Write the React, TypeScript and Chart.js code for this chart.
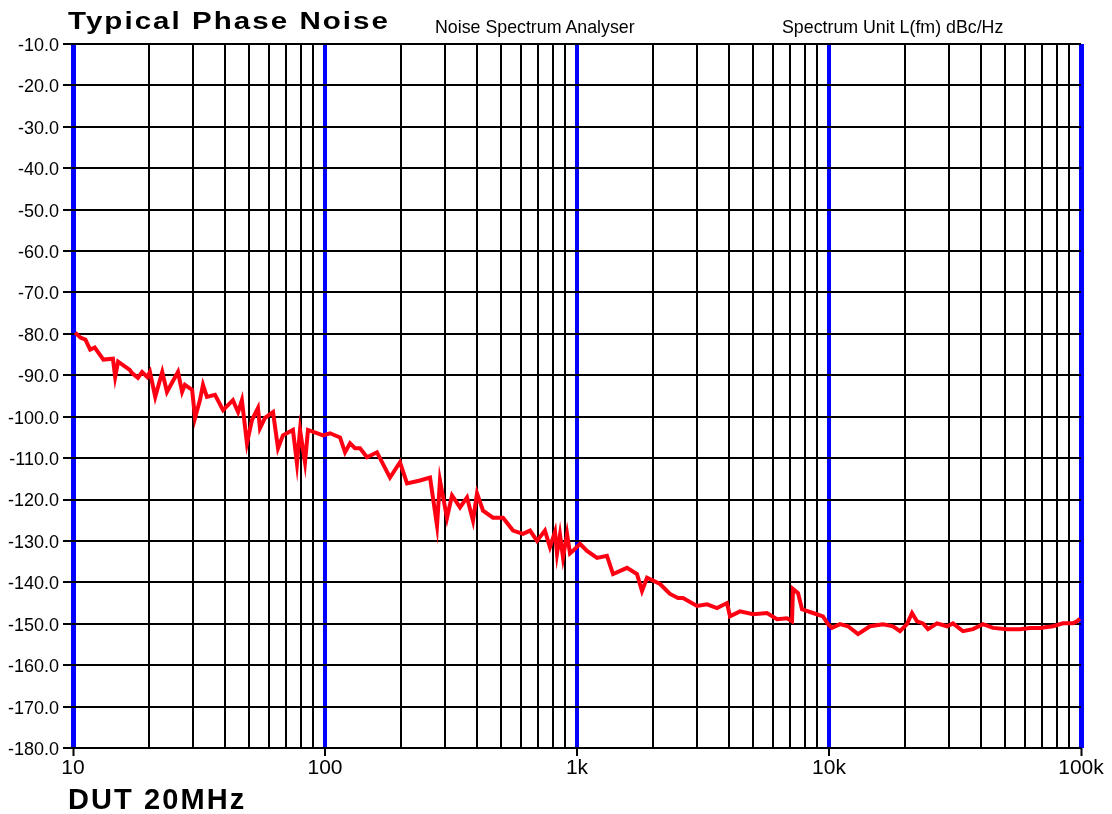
import React, { useEffect, useRef } from 'react';
import { Chart, registerables } from 'chart.js';

Chart.register(...registerables);

// ---------- data ----------
const FREQ_HZ: number[] = [
  10.2, 10.7, 11.2, 11.7, 12.2, 13.2, 14.4, 14.7, 15.1, 16.8, 17.1, 18.1, 18.8, 19.7, 20.2, 21.2, 22.6, 23.6, 24.7, 26.1,
  27.1, 27.8, 29.7, 30.5, 31.9, 32.8, 34.0, 36.6, 39.4, 43.1, 45.2, 46.8, 49.0, 51.3, 54.2, 55.2, 57.8, 62.2, 65.1, 68.1,
  74.6, 77.4, 79.6, 83.3, 85.6, 98.2, 104.7, 114.7, 120.1, 125.7, 131.5, 137.7, 146.8, 160.8, 181.1, 198.4, 211.6, 238.2,
  261.1, 278.3, 285.9, 304.9, 319.2, 343.4, 366.1, 386.7, 401.1, 423.7, 464.2, 508.6, 557.2, 610.6, 651, 694, 746, 781,
  818, 833, 856, 880, 913, 938, 964, 1028, 1096, 1201, 1315, 1390, 1579, 1730, 1811, 1896, 2135, 2339, 2516, 2634, 2994,
  3281, 3594, 3937, 4047, 4436, 4994, 5675, 6220, 6813, 7132, 7197, 7535, 7815, 8640, 9467, 9909, 10277, 11058, 11898,
  13036, 14548, 16379, 17947, 19128, 20391, 21350, 22346, 23605, 24713, 26827, 29398, 31054, 34020, 37276, 40846, 44755,
  50852, 57280, 62763, 68771, 77426, 84842, 92958, 96400, 99000,
];

const PHASE_NOISE_DBC: number[] = [
  -79.7, -80.9, -81.4, -83.8, -83.3, -86.2, -86.0, -90.4, -86.7, -88.7, -89.4, -90.6, -89.2, -90.4, -89.2, -95.2, -89.2, -94.0, -91.8, -89.2,
  -94.0, -92.3, -93.5, -100.3, -96.0, -92.3, -95.2, -94.7, -98.4, -96.0, -98.9, -96.0, -106.4, -100.8, -97.9, -102.8, -100.3, -98.9, -107.6, -104.5,
  -103.2, -111.3, -103.2, -111.0, -103.2, -104.5, -104.0, -105.0, -108.6, -106.4, -107.6, -107.6, -109.8, -108.6, -114.7, -111.0, -116.1, -115.4,
  -114.7, -126.3, -115.4, -124.4, -119.0, -121.9, -119.5, -125.1, -118.5, -122.7, -124.4, -124.4, -127.5, -128.3, -127.5, -130.0, -127.5, -131.5,
  -127.8, -133.1, -128.5, -134.0, -128.3, -133.0, -132.4, -130.7, -132.4, -134.1, -133.6, -138.0, -136.5, -138.0, -142.1, -138.9, -140.4, -142.8, -143.8, -143.8, -145.7,
  -145.3, -146.2, -145.0, -148.2, -147.0, -147.7, -147.4, -148.9, -148.7, -149.4, -141.6, -142.6, -146.5, -147.4, -148.2, -150.1, -151.0, -150.1, -150.6,
  -152.5, -150.6, -150.1, -150.6, -151.8, -150.1, -147.4, -149.4, -149.9, -151.3, -149.9, -150.6, -149.9, -151.8, -151.3, -150.1, -151.0,
  -151.3, -151.3, -151.0, -151.0, -150.6, -149.9, -149.9, -149.4, -148.8,
];

const X_DECADES: number[] = [10, 100, 1000, 10000, 100000];
const X_DECADE_LABELS: string[] = ['10', '100', '1k', '10k', '100k'];
const X_MINOR_MULTIPLES: number[] = [2, 3, 4, 5, 6, 7, 8, 9];
const Y_MIN = -180;
const Y_MAX = -10;
const Y_STEP = 10;

const TITLE = 'Typical Phase Noise';
const SUBTITLE = 'DUT 20MHz';
const HEADER_LEFT = 'Noise Spectrum Analyser';
const HEADER_RIGHT = 'Spectrum Unit L(fm) dBc/Hz';

// ---------- styles ----------
const RED = 'rgb(255,0,18)';
const BLUE = '#0000ff';
const BLACK = '#000000';
const FONT = '"Liberation Sans", Arial, Helvetica, sans-serif';

const X_GRID_VALUES: number[] = (() => {
  const out: number[] = [];
  X_DECADES.forEach((d, i) => {
    out.push(d);
    if (i < X_DECADES.length - 1) X_MINOR_MULTIPLES.forEach((m) => out.push(d * m));
  });
  return out.sort((a, b) => a - b);
})();

const decadeIndex = (v: number) => X_DECADES.findIndex((d) => Math.abs(d - v) < 1e-6 * d);

export default function App() {
  const ref = useRef<HTMLCanvasElement>(null);

  useEffect(() => {
    const canvas = ref.current;
    if (!canvas) return;
    const chart = new Chart(canvas, {
      type: 'line',
      data: {
        datasets: [
          {
            data: FREQ_HZ.map((f, i) => ({ x: f, y: PHASE_NOISE_DBC[i] })),
            borderColor: RED,
            backgroundColor: RED,
            borderWidth: 4,
            pointRadius: 0,
            tension: 0,
            fill: false,
            borderJoinStyle: 'miter',
          },
        ],
      },
      options: {
        responsive: false,
        maintainAspectRatio: false,
        animation: false,
        devicePixelRatio: 1,
        layout: { padding: { top: 44, right: 31, left: 0, bottom: 0 } },
        plugins: {
          legend: { display: false },
          tooltip: { enabled: false },
          title: { display: false },
        },
        scales: {
          x: {
            type: 'logarithmic',
            position: 'bottom',
            min: 10,
            max: 100000,
            afterBuildTicks: (scale: any) => {
              scale.ticks = X_GRID_VALUES.map((v) => ({ value: v }));
            },
            afterFit: (scale: any) => {
              scale.height = 66;
            },
            border: { display: false },
            grid: {
              color: (ctx: any) => (ctx.tick && decadeIndex(ctx.tick.value) >= 0 ? BLUE : BLACK),
              lineWidth: (ctx: any) => {
                if (!ctx.tick) return 2;
                const i = decadeIndex(ctx.tick.value);
                if (i === 0 || i === X_DECADES.length - 1) return 5;
                if (i > 0) return 4;
                return 2;
              },
              tickColor: (ctx: any) =>
                ctx.tick && decadeIndex(ctx.tick.value) >= 0 ? BLACK : 'rgba(0,0,0,0)',
              tickLength: 8,
              tickWidth: 2,
              drawTicks: true,
            },
            ticks: {
              autoSkip: false,
              maxRotation: 0,
              minRotation: 0,
              padding: 0,
              color: BLACK,
              font: { family: FONT, size: 21 },
              callback: (value: any) => {
                const i = decadeIndex(Number(value));
                return i >= 0 ? X_DECADE_LABELS[i] : '';
              },
            },
          },
          y: {
            type: 'linear',
            min: Y_MIN,
            max: Y_MAX,
            afterFit: (scale: any) => {
              scale.width = 73;
            },
            border: { display: false },
            grid: {
              color: BLACK,
              lineWidth: 2,
              tickLength: 10,
              tickWidth: 2,
              tickColor: BLACK,
              drawTicks: true,
            },
            ticks: {
              stepSize: Y_STEP,
              padding: 4,
              labelOffset: 2,
              color: BLACK,
              font: { family: FONT, size: 18 },
              callback: (value: any) => Number(value).toFixed(1),
            },
          },
        },
      } as any,
    });
    return () => chart.destroy();
  }, []);

  const textBase: React.CSSProperties = {
    position: 'absolute',
    fontFamily: FONT,
    color: BLACK,
    lineHeight: 1,
    whiteSpace: 'nowrap',
    margin: 0,
  };

  return (
    <div
      style={{
        position: 'fixed',
        left: 0,
        top: 0,
        width: 1112,
        height: 814,
        background: '#ffffff',
        overflow: 'hidden',
      }}
    >
      <canvas
        ref={ref}
        width={1112}
        height={814}
        style={{ position: 'absolute', left: 0, top: 0, width: 1112, height: 814 }}
      />
      <div
        style={{
          ...textBase,
          left: 68,
          top: 8.5,
          fontSize: 24.6,
          fontWeight: 700,
          letterSpacing: '1.7px',
          transform: 'scaleX(1.2)',
          transformOrigin: 'left top',
        }}
      >
        {TITLE}
      </div>
      <div style={{ ...textBase, left: 68, top: 784.8, fontSize: 29, fontWeight: 700, letterSpacing: '2.1px' }}>
        {SUBTITLE}
      </div>
      <div style={{ ...textBase, left: 435, top: 18.8, fontSize: 17.8 }}>{HEADER_LEFT}</div>
      <div style={{ ...textBase, left: 782, top: 18.8, fontSize: 17.8 }}>{HEADER_RIGHT}</div>
    </div>
  );
}
